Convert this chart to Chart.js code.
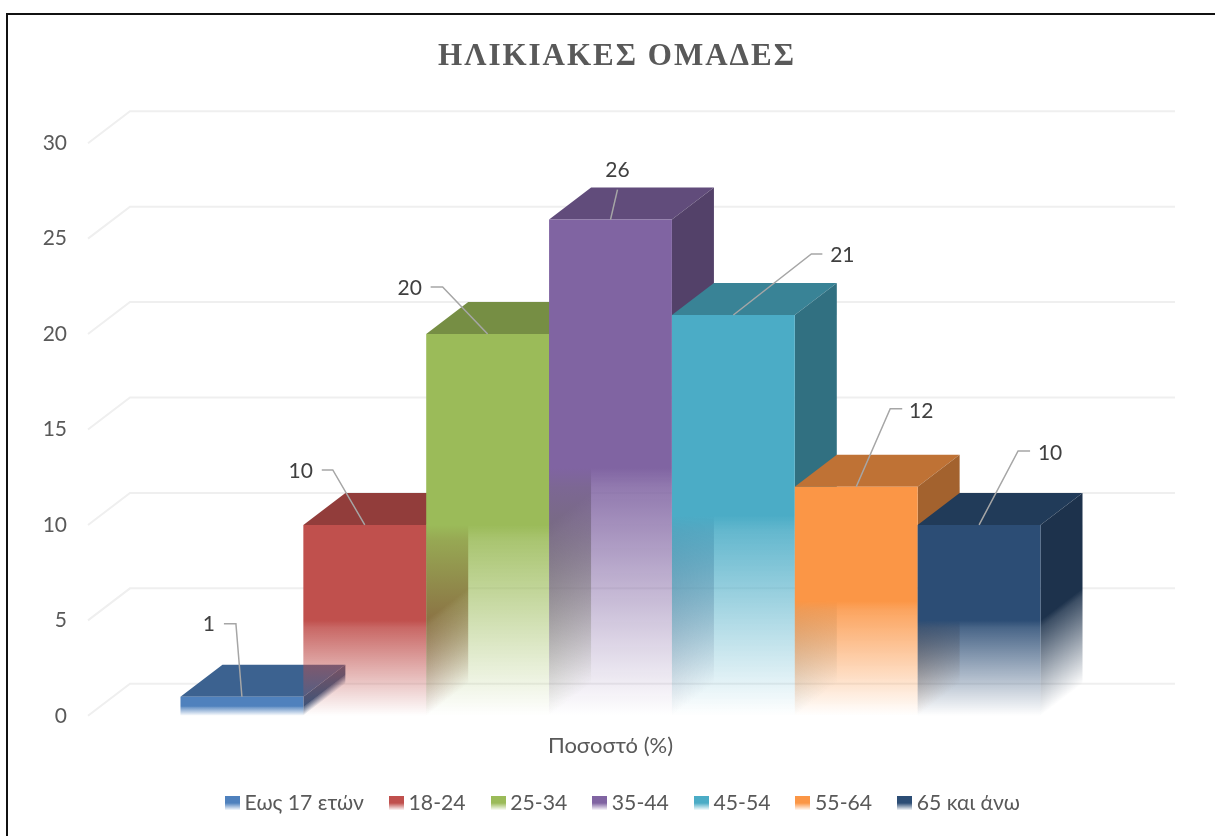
<!DOCTYPE html>
<html lang="el">
<head>
<meta charset="utf-8">
<title>ΗΛΙΚΙΑΚΕΣ ΟΜΑΔΕΣ</title>
<script src="https://cdn.jsdelivr.net/npm/chart.js@4"></script>
<style>
html,body{margin:0;padding:0;background:#fff;overflow:hidden}
#frame{position:absolute;left:6px;top:13px;right:0;bottom:0;border-left:2px solid #111;border-top:2px solid #111}
#wrap{position:absolute;left:0;top:0;width:1215px;height:836px}
</style>
</head>
<body>
<div id="frame"></div>
<div id="wrap"><canvas id="c" width="1215" height="836"></canvas></div>
<script>
const titleText = 'ΗΛΙΚΙΑΚΕΣ ΟΜΑΔΕΣ';
const categoryLabels = ['Ποσοστό (%)'];
const seriesNames = ['Εως 17 ετών', '18-24', '25-34', '35-44', '45-54', '55-64', '65 και άνω'];
const seriesValues = [1, 10, 20, 26, 21, 12, 10];
const frontColors = ['#4f81bd', '#c0504d', '#9bbb59', '#8064a2', '#4bacc6', '#fb9646', '#2c4d75'];
const yTicks = [0, 5, 10, 15, 20, 25, 30];

// styling of the leader lines: [dx to elbow, dy to elbow, dx to line end, dx to text centre, dy to text centre]
const leaderStyle = [
  [-6, -73, -18, -33, -72],
  [-32, -55, -43, -64, -54],
  [-45, -47, -57, -78, -46],
  [7, -30, 7, 7, -49],
  [78, -61, 89, 109, -60],
  [34, -78, 46, 65, -76],
  [39, -74, 51, 71, -72]
];
const DEPTH_X = 42, DEPTH_Y = 32;
const TEXT = 'Lato';

function rgba(hex, a) {
  const n = parseInt(hex.slice(1), 16);
  return `rgba(${n >> 16},${(n >> 8) & 255},${n & 255},${a})`;
}
function shade(hex, k) {
  const n = parseInt(hex.slice(1), 16);
  return '#' + [n >> 16, (n >> 8) & 255, n & 255]
    .map(v => Math.round(v * k).toString(16).padStart(2, '0')).join('');
}
function fade(ctx, top, base, hex) {
  const g = ctx.createLinearGradient(0, top, 0, base);
  g.addColorStop(0, rgba(hex, 1));
  g.addColorStop(0.5, rgba(hex, 1));
  g.addColorStop(0.54, rgba(hex, 0.86));
  g.addColorStop(1, rgba(hex, 0));
  return g;
}
function swatch(hex) {
  const cv = document.createElement('canvas');
  cv.width = 15; cv.height = 14;
  const x = cv.getContext('2d');
  x.fillStyle = fade(x, 0, 14, hex);
  x.fillRect(0, 0, 15, 14);
  return cv;
}

const box3d = {
  id: 'box3d',
  afterLayout(chart) {
    const t = chart.titleBlock, l = chart.legend;
    t.left = 0; t.right = 1234;
    l.left = 0; l.right = 1251;
    if (!t._spaced) {
      t._spaced = true;
      const d = t.draw;
      t.draw = function () {
        chart.ctx.save();
        chart.ctx.letterSpacing = '2px';
        d.call(this);
        chart.ctx.restore();
      };
    }
  },
  beforeDatasetsDraw(chart) {
    const ctx = chart.ctx, y = chart.scales.y, a = chart.chartArea;
    // walls: gridlines in perspective
    ctx.save();
    ctx.strokeStyle = '#efefef';
    ctx.lineWidth = 2;
    yTicks.forEach(v => {
      const p = y.getPixelForValue(v);
      ctx.beginPath();
      ctx.moveTo(a.left, p);
      ctx.lineTo(a.left + DEPTH_X, p - DEPTH_Y);
      ctx.lineTo(a.right + DEPTH_X, p - DEPTH_Y);
      ctx.stroke();
    });
    ctx.restore();
    // paint left to right so that translucent fronts cover the neighbour's side
    chart.data.datasets.forEach((ds, i) => {
      const meta = chart.getDatasetMeta(i), el = meta.data[0];
      const hex = frontColors[i];
      const left = el.x - el.width / 2, right = el.x + el.width / 2, top = el.y, base = el.base;
      ctx.save();
      ctx.fillStyle = shade(hex, 0.76);
      ctx.beginPath();
      ctx.moveTo(left, top);
      ctx.lineTo(left + DEPTH_X, top - DEPTH_Y);
      ctx.lineTo(right + DEPTH_X, top - DEPTH_Y);
      ctx.lineTo(right, top);
      ctx.closePath();
      ctx.fill();
      ctx.restore();
      ctx.save();
      ctx.transform(1, -DEPTH_Y / DEPTH_X, 0, 1, right, 0);
      ctx.fillStyle = fade(ctx, top, base, shade(hex, 0.65));
      ctx.fillRect(0, top, DEPTH_X, base - top);
      ctx.restore();
      meta.controller.draw();
    });
    // leader lines and value labels on top of the boxes
    chart.data.datasets.forEach((ds, i) => {
      const el = chart.getDatasetMeta(i).data[0];
      const [ex, ey, lx, tx, ty] = leaderStyle[i];
      ctx.save();
      ctx.strokeStyle = '#a6a6a6';
      ctx.lineWidth = 1.5;
      ctx.beginPath();
      ctx.moveTo(el.x, el.y);
      ctx.lineTo(el.x + ex, el.y + ey);
      ctx.lineTo(el.x + lx, el.y + ey);
      ctx.stroke();
      ctx.fillStyle = '#404040';
      ctx.font = `21px ${TEXT}`;
      ctx.textAlign = 'center';
      ctx.textBaseline = 'middle';
      ctx.fillText(String(ds.data[0]), el.x + tx, el.y + ty);
      ctx.restore();
    });
    return false;
  }
};

new Chart(document.getElementById('c'), {
  type: 'bar',
  data: {
    labels: categoryLabels,
    datasets: seriesNames.map((name, i) => ({
      label: name,
      data: [seriesValues[i]],
      backgroundColor: (c) => {
        const sc = c.chart.scales.y;
        return fade(c.chart.ctx, sc.getPixelForValue(seriesValues[i]), sc.getPixelForValue(0), frontColors[i]);
      },
      borderWidth: 0,
      categoryPercentage: 0.823,
      barPercentage: 1
    }))
  },
  plugins: [box3d],
  options: {
    responsive: false,
    animation: false,
    layout: { padding: { left: 0, right: 82, top: 0, bottom: 12 } },
    scales: {
      x: {
        grid: { display: false, drawTicks: false },
        border: { display: false },
        ticks: { color: '#595959', font: { family: TEXT, size: 22 }, padding: 17, maxRotation: 0 },
        afterFit(s) { s.height = 46; }
      },
      y: {
        min: 0, max: 30,
        grid: { display: false, drawTicks: false },
        border: { display: false },
        ticks: { stepSize: 5, color: '#595959', font: { family: TEXT, size: 21 }, padding: 21 },
        afterFit(s) { s.width = 88; }
      }
    },
    plugins: {
      tooltip: { enabled: false },
      title: {
        display: true,
        text: titleText,
        color: '#595959',
        font: { family: 'Liberation Serif', size: 31, weight: 'bold', lineHeight: 1.2 },
        padding: { top: 38, bottom: 68 }
      },
      legend: {
        display: true,
        position: 'bottom',
        labels: {
          color: '#595959',
          font: { family: TEXT, size: 21.2 },
          usePointStyle: true,
          pointStyleWidth: 3,
          padding: 31,
          generateLabels: (chart) => chart.data.datasets.map((d, i) => ({
            text: d.label,
            datasetIndex: i,
            pointStyle: swatch(frontColors[i]),
            fontColor: '#595959',
            lineWidth: 0,
            strokeStyle: 'transparent',
            fillStyle: frontColors[i]
          }))
        }
      }
    }
  }
});
</script>
</body>
</html>
